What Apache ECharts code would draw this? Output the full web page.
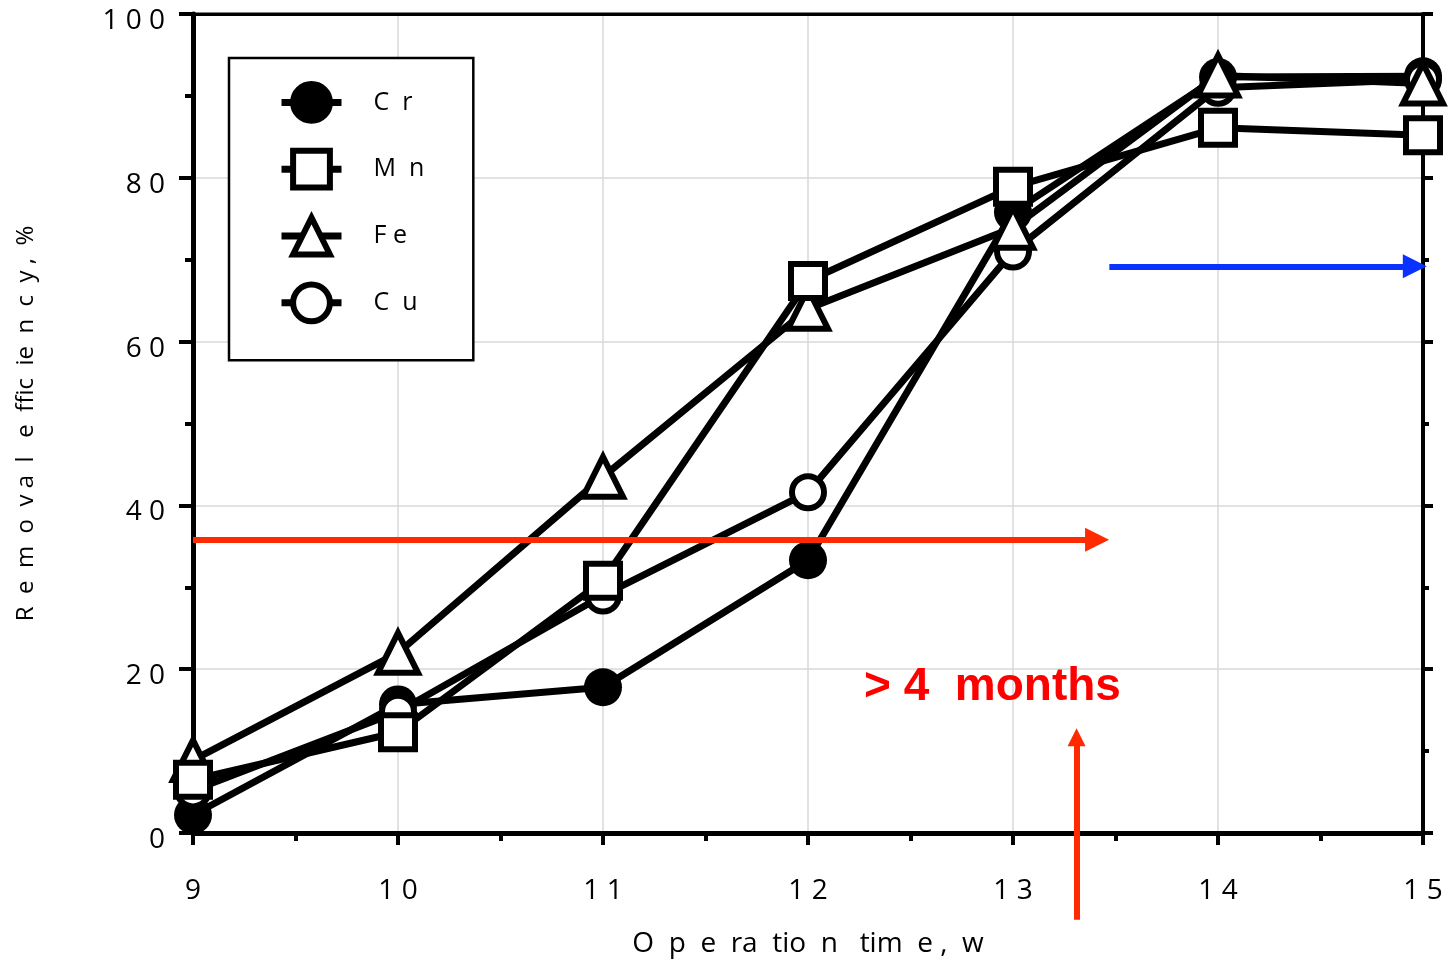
<!DOCTYPE html>
<html>
<head>
<meta charset="utf-8">
<script src="https://cdn.jsdelivr.net/npm/echarts@6/dist/echarts.min.js"></script>
<style>
  html, body { margin: 0; padding: 0; background: #fff; }
  #chart { width: 1453px; height: 959px; }
</style>
</head>
<body>
<div id="chart"></div>
<script>
// operation time, weeks
const weeks = [9, 10, 11, 12, 13, 14, 15];
// removal efficiency, %
const crData = [2.2, 15.7, 17.8, 33.3, 75.8, 92.3, 92.4];
const mnData = [6.5, 12.3, 30.8, 67.4, 78.9, 86.1, 85.2];
const feData = [8.9, 22.0, 43.5, 64.0, 73.9, 92.5, 91.5];
const cuData = [5.2, 14.8, 29.0, 41.6, 71.0, 91.0, 92.0];
const seriesNames = ["C  r", "M  n", "F e", "C  u"];

// annotation arrows (data coords)
const redArrow = [[9, 35.8], [13.41, 35.8]];
const blueArrow = [[13.47, 69.2], [14.96, 69.2]];
const upArrow = [[13.31, -10.6], [13.31, 11.7]];
const noteText = "> 4  months";
const notePos = [12.9, 17.8];

const pairs = (vals) => weeks.map((w, i) => [w, vals[i]]);
const spaced = (v) => String(v).split("").join(" ");

var myChart = echarts.init(document.getElementById("chart"));

function lineSeries(name, vals, symbol, fill, size) {
  return {
    name: name,
    type: "line",
    data: pairs(vals),
    symbol: symbol,
    symbolSize: size,
    showAllSymbol: true,
    z: 3,
    lineStyle: { color: "#000", width: 7 },
    itemStyle: {
      color: fill,
      borderColor: "#000",
      borderWidth: fill === "#000" ? 0 : 6,
      opacity: 1,
    },
    emphasis: { disabled: true },
  };
}

var option = {
  animation: false,
  backgroundColor: "#fff",
  grid: {
    left: 193,
    right: 30,
    top: 14,
    bottom: 126,
    outerBoundsMode: "none",
    show: true,
    borderColor: "#000",
    borderWidth: 3,
  },
  legend: {
    orient: "vertical",
    left: 229,
    top: 58,
    data: seriesNames,
    itemWidth: 60,
    itemHeight: 46,
    itemGap: 24,
    padding: [23, 49, 36, 49],
    borderColor: "#000",
    borderWidth: 2.5,
    backgroundColor: "#fff",
    selectedMode: false,
    lineStyle: { width: 7, color: "#000" },
    itemStyle: { borderWidth: 6, borderColor: "#000" },
    textStyle: {
      fontFamily: "Open Sans",
      fontSize: 25,
      color: "#000",
      padding: [0, 0, 0, 27],
    },
  },
  xAxis: [
    {
      type: "value",
      min: 9,
      max: 15,
      interval: 1,
      name: "O  p  e  ra  tio  n   tim  e ,  w",
      nameLocation: "middle",
      nameGap: 97,
      nameTextStyle: { fontFamily: "Open Sans", fontSize: 28, color: "#000" },
      axisLine: { show: true, onZero: false, lineStyle: { color: "#000", width: 5 } },
      axisTick: { show: true, length: 12, lineStyle: { color: "#000", width: 4 } },
      minorTick: { show: true, splitNumber: 2, length: 8, lineStyle: { color: "#000", width: 4 } },
      axisLabel: {
        margin: 44,
        fontFamily: "Open Sans",
        fontSize: 28,
        color: "#000",
        formatter: spaced,
      },
      splitLine: { show: true, lineStyle: { color: "#d9d9d9", width: 1.5 } },
    },
    {
      type: "value",
      min: 9,
      max: 15,
      interval: 1,
      position: "top",
      axisLine: { show: true, onZero: false, lineStyle: { color: "#000", width: 3 } },
      axisTick: { show: false },
      axisLabel: { show: false },
      splitLine: { show: false },
    },
  ],
  yAxis: [
    {
      type: "value",
      min: 0,
      max: 100,
      interval: 20,
      name: "R  e  m  o  v a  l   e  ffic  ie  n  c  y ,  %",
      nameLocation: "middle",
      nameGap: 155,
      nameTextStyle: { fontFamily: "Open Sans", fontSize: 24, color: "#000" },
      axisLine: { show: true, lineStyle: { color: "#000", width: 5 } },
      axisTick: { show: true, length: 14, lineStyle: { color: "#000", width: 4 } },
      minorTick: { show: true, splitNumber: 2, length: 8, lineStyle: { color: "#000", width: 4 } },
      axisLabel: {
        margin: 28,
        color: "#000",
        formatter: (v) => "{t|" + spaced(v) + "}",
        rich: {
          t: {
            fontFamily: "Open Sans",
            fontSize: 28,
            color: "#000",
            padding: [14, 0, 0, 0],
          },
        },
      },
      splitLine: { show: true, lineStyle: { color: "#d9d9d9", width: 1.5 } },
    },
    {
      type: "value",
      min: 0,
      max: 100,
      interval: 20,
      position: "right",
      axisLine: { show: true, lineStyle: { color: "#000", width: 4 } },
      axisTick: { show: true, length: 10, lineStyle: { color: "#000", width: 4 } },
      minorTick: { show: true, splitNumber: 2, length: 6, lineStyle: { color: "#000", width: 4 } },
      axisLabel: { show: false },
      splitLine: { show: false },
    },
  ],
  series: [
    lineSeries(seriesNames[0], crData, "circle", "#000", 38),
    lineSeries(seriesNames[3], cuData, "circle", "#fff", 32),
    lineSeries(seriesNames[2], feData, "triangle", "#fff", 40),
    lineSeries(seriesNames[1], mnData, "rect", "#fff", 34),
  ],
};

myChart.setOption(option);

// arrows + note drawn as markers on a blank series
const toPx = (p) => myChart.convertToPixel({ gridIndex: 0 }, p);
const upA = toPx(upArrow[0]);
const upB = toPx(upArrow[1]);

myChart.setOption({
  series: option.series.concat([
    {
      name: "notes",
      type: "line",
      data: [],
      z: 5,
      markLine: {
        silent: true,
        symbol: ["none", "triangle"],
        symbolSize: 24,
        label: { show: false },
        data: [
          [
            { coord: redArrow[0], lineStyle: { color: "#ff2a00", width: 6, type: "solid" } },
            { coord: redArrow[1], symbolSize: 24 },
          ],
          [
            { coord: blueArrow[0], lineStyle: { color: "#0a32ff", width: 6, type: "solid" } },
            { coord: blueArrow[1], symbolSize: 24 },
          ],
          [
            { x: upA[0], y: upA[1], lineStyle: { color: "#ff2a00", width: 6, type: "solid" } },
            { x: upB[0], y: upB[1], symbolSize: 18 },
          ],
        ],
      },
      markPoint: {
        silent: true,
        symbol: "circle",
        symbolSize: 1,
        itemStyle: { color: "rgba(0,0,0,0)" },
        label: {
          show: true,
          position: "inside",
          formatter: noteText,
          color: "#ff0000",
          fontFamily: "Liberation Sans",
          fontWeight: "bold",
          fontSize: 46,
        },
        data: [{ coord: notePos }],
      },
    },
  ]),
});
</script>
</body>
</html>
